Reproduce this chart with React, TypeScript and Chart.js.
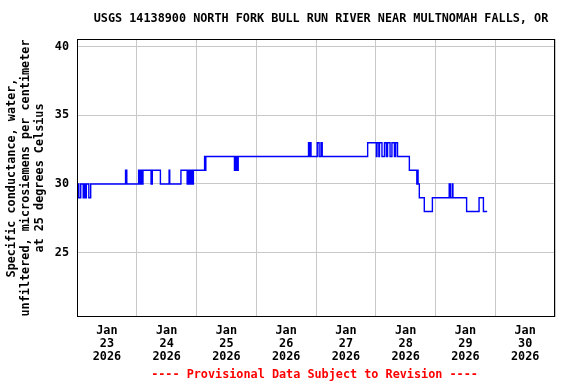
import { useEffect, useRef } from 'react';
import { Chart, registerables } from 'chart.js';

Chart.register(...registerables);

const TITLE = 'USGS 14138900 NORTH FORK BULL RUN RIVER NEAR MULTNOMAH FALLS, OR';
const FOOTER = '---- Provisional Data Subject to Revision ----';
const Y_TITLE = [
  'Specific conductance, water,',
  'unfiltered, microsiemens per centimeter',
  'at 25 degrees Celsius',
];
const MONTH = 'Jan';
const YEAR = '2026';
const dayLabels = ['23', '24', '25', '26', '27', '28', '29', '30'];
// hours since Jan 23 2026 00:00 for each day start (grid lines)
const dayStartHours = [0, 24, 48, 72, 96, 120, 144, 168, 192];
const yTicks = [25, 30, 35, 40];

// step series: value holds from the given hour until the next change
const changeHours = [
  0, 0.5, 0.75, 1.5, 2.5, 2.75, 3.0, 3.25, 3.5, 3.75, 4.75, 5.5,
  19.5, 20.0, 24.75, 25.0, 25.25, 25.5, 26.0, 26.25, 26.5, 29.75, 30.25, 33.5,
  37.0, 37.25, 41.75, 44.25, 44.5, 45.0, 45.25, 45.5, 45.75, 46.0, 46.25, 46.5, 46.75,
  51.25, 51.5, 51.75, 63.25, 63.5, 63.75, 64.25, 64.5, 64.75,
  93.0, 93.25, 93.5, 94.0, 96.5, 97.25, 98.0, 98.5,
  116.75, 120.25, 120.5, 121.25, 121.5, 122.5, 123.5, 124.25, 124.75, 125.75, 126.5, 127.5, 128.0, 128.75,
  133.5, 136.5, 136.75, 137.0, 137.5, 139.5, 142.75, 149.5, 150.0, 150.75, 151.0,
  156.5, 161.5, 163.25, 164.75,
];
const changeValues = [
  29, 30, 29, 30, 29, 30, 29, 30, 29, 30, 29, 30,
  31, 30, 31, 30, 31, 30, 31, 30, 31, 30, 31, 30,
  31, 30, 31, 30, 31, 30, 31, 30, 31, 30, 31, 30, 31,
  32, 31, 32, 31, 32, 31, 32, 31, 32,
  33, 32, 33, 32, 33, 32, 33, 32,
  33, 32, 33, 32, 33, 32, 33, 32, 33, 32, 33, 32, 33, 32,
  31, 30, 31, 30, 29, 28, 29, 30, 29, 30, 29,
  28, 29, 28, 28,
];

const FONT_FAMILY = "'DejaVu Sans Mono', 'Liberation Mono', monospace";
const FONT_SIZE = 11.8;
const GRID = '#c8c8c8';

const decor = {
  id: 'decor',
  afterDraw(chart: any) {
    const { ctx, chartArea: a } = chart;
    ctx.save();
    ctx.strokeStyle = '#000000';
    ctx.lineWidth = 1;
    ctx.strokeRect(a.left + 0.5, a.top + 0.5, a.right - a.left - 1, a.bottom - a.top - 1);
    ctx.font = `bold ${FONT_SIZE}px ${FONT_FAMILY}`;
    ctx.textAlign = 'center';
    ctx.textBaseline = 'middle';
    const cx = (a.left + a.right) / 2;
    ctx.fillStyle = '#000000';
    ctx.fillText(TITLE, cx + 5, 19);
    ctx.fillStyle = '#ff0000';
    ctx.fillText(FOOTER, cx - 1.5, 375);
    ctx.restore();
  },
};

export default function App() {
  const ref = useRef<HTMLCanvasElement | null>(null);

  useEffect(() => {
    if (!ref.current) return;
    const data = changeHours.map((h, i) => ({ x: h, y: changeValues[i] }));
    const font = { family: FONT_FAMILY, size: FONT_SIZE, weight: 'bold' as const };
    const chart = new Chart(ref.current, {
      type: 'line',
      data: {
        datasets: [
          {
            data,
            borderColor: '#0000ff',
            borderWidth: 1.4,
            pointRadius: 0,
            stepped: 'before',
            fill: false,
          },
        ],
      },
      options: {
        animation: false,
        responsive: false,
        events: [],
        layout: { padding: { top: 39, right: 21, bottom: 21, left: 0 } },
        plugins: {
          legend: { display: false },
          tooltip: { enabled: false },
          title: { display: false },
        },
        scales: {
          x: {
            type: 'linear',
            min: 0,
            max: 192,
            afterBuildTicks: (s: any) => {
              s.ticks = dayStartHours.map((v) => ({ value: v }));
            },
            afterFit: (s: any) => {
              s.height = 46;
            },
            grid: { color: GRID, drawTicks: false, lineWidth: 1 },
            border: { display: false },
            ticks: {
              autoSkip: false,
              maxRotation: 0,
              minRotation: 0,
              padding: 7,
              labelOffset: 29.9,
              color: '#000000',
              font: { ...font, lineHeight: '13px' },
              callback: (_v: any, i: number) =>
                i < dayLabels.length ? [MONTH, dayLabels[i], YEAR] : '',
            },
          },
          y: {
            type: 'linear',
            min: 20.31,
            max: 40.56,
            afterBuildTicks: (s: any) => {
              s.ticks = yTicks.map((v) => ({ value: v }));
            },
            afterFit: (s: any) => {
              s.width = 77;
            },
            grid: { color: GRID, drawTicks: false, lineWidth: 1 },
            border: { display: false },
            ticks: {
              padding: 8,
              color: '#000000',
              font,
              callback: (v: any) => String(v),
            },
            title: {
              display: true,
              text: Y_TITLE,
              color: '#000000',
              font: { ...font, lineHeight: '14px' },
              padding: { top: 5, bottom: 0 },
            },
          },
        },
      },
      plugins: [decor],
    });
    return () => chart.destroy();
  }, []);

  return (
    <div style={{ position: 'fixed', left: 0, top: 0, width: 576, height: 384, background: '#ffffff' }}>
      <canvas ref={ref} width={576} height={384} style={{ display: 'block' }} />
    </div>
  );
}
